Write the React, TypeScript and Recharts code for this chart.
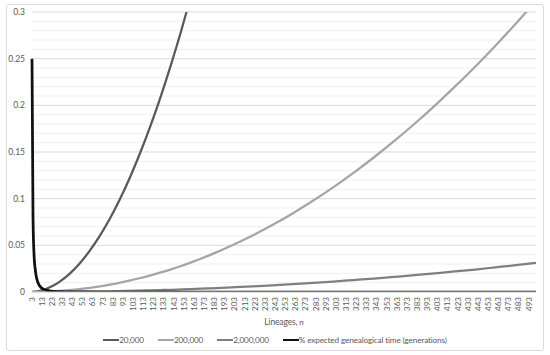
import React from 'react';
import { LineChart, Line, XAxis, YAxis, CartesianGrid, ReferenceLine, Legend, Label } from 'recharts';

const lineages = [3, 4, 5, 6, 7, 8, 10, 12, 15, 20, 25, 30, 40, 50, 60, 70, 80, 90, 100, 110, 120, 130, 140, 150, 160, 170, 180, 200, 220, 240, 260, 280, 300, 320, 340, 360, 380, 400, 420, 440, 460, 480, 500];

const pop20k = [0.0001, 0.0002, 0.0003, 0.0004, 0.0005, 0.0007, 0.0011, 0.0017, 0.0026, 0.0048, 0.0075, 0.0109, 0.0195, 0.0306, 0.0443, 0.0604, 0.079, 0.1001, 0.1238, 0.15, 0.1785, 0.2096, 0.2433, 0.2794, 0.318, 0.3591, 0.4028, 0.4975, null, null, null, null, null, null, null, null, null, null, null, null, null, null, null];

const pop200k = [0, 0, 0, 0, 0.0001, 0.0001, 0.0001, 0.0002, 0.0003, 0.0005, 0.0008, 0.0011, 0.002, 0.0031, 0.0044, 0.006, 0.0079, 0.01, 0.0124, 0.015, 0.0179, 0.021, 0.0243, 0.0279, 0.0318, 0.0359, 0.0403, 0.0498, 0.0602, 0.0717, 0.0842, 0.0977, 0.1121, 0.1276, 0.1441, 0.1616, 0.18, 0.1995, 0.22, 0.2414, 0.2639, 0.2874, 0.3119];

const pop2m = [0, 0, 0, 0, 0, 0, 0, 0, 0, 0, 0.0001, 0.0001, 0.0002, 0.0003, 0.0004, 0.0006, 0.0008, 0.001, 0.0012, 0.0015, 0.0018, 0.0021, 0.0024, 0.0028, 0.0032, 0.0036, 0.004, 0.005, 0.006, 0.0072, 0.0084, 0.0098, 0.0112, 0.0128, 0.0144, 0.0162, 0.018, 0.02, 0.022, 0.0241, 0.0264, 0.0287, 0.0312];

const genealogicalTime = [0.25, 0.08, 0.04, 0.026, 0.018, 0.013, 0.0075, 0.0048, 0.0028, 0.0013, 0.0007, 0.0004, 0.0002, 0.0001, 0.0001, 0, 0, 0, 0, 0, 0, 0, 0, 0, 0, 0, 0, 0, 0, 0, 0, 0, 0, 0, 0, 0, 0, 0, 0, 0, 0, 0, 0];

const xTicks = [3, 13, 23, 33, 43, 53, 63, 73, 83, 93, 103, 113, 123, 133, 143, 153, 163, 173, 183, 193, 203, 213, 223, 233, 243, 253, 263, 273, 283, 293, 303, 313, 323, 333, 343, 353, 363, 373, 383, 393, 403, 413, 423, 433, 443, 453, 463, 473, 483, 493];
const yTicks = [0, 0.05, 0.1, 0.15, 0.2, 0.25, 0.3];
const minorTicks = [0.01, 0.02, 0.03, 0.04, 0.06, 0.07, 0.08, 0.09, 0.11, 0.12, 0.13, 0.14, 0.16, 0.17, 0.18, 0.19, 0.21, 0.22, 0.23, 0.24, 0.26, 0.27, 0.28, 0.29];

const series = [
    { key: 'pop20k', name: '20,000', color: '#595959', width: 2.25 },
    { key: 'pop200k', name: '200,000', color: '#a5a5a5', width: 2.25 },
    { key: 'pop2m', name: '2,000,000', color: '#7f7f7f', width: 2.25 },
    { key: 'genealogicalTime', name: '% expected genealogical time (generations)', color: '#111111', width: 2.75 },
];

const data = lineages.map((n, i) => ({
    n,
    pop20k: pop20k[i],
    pop200k: pop200k[i],
    pop2m: pop2m[i],
    genealogicalTime: genealogicalTime[i],
}));

const FONT = 'Lato, "Open Sans", sans-serif';
const TEXT = '#595959';

const XTick = ({ x, y, payload }: any) => (
    <text
        x={x}
        y={y}
        transform={`rotate(-90, ${x}, ${y})`}
        textAnchor="end"
        dy="0.33em"
        fill={TEXT}
        fontSize={8}
        fontFamily={FONT}
    >
        {payload.value}
    </text>
);

const AxisTitle = (props: any) => {
    const vb = props.viewBox || {};
    return (
        <text x={vb.x + vb.width / 2} y={vb.y + 33} textAnchor="middle" fill={TEXT} fontSize={8.5} letterSpacing={-0.15} fontFamily={FONT}>
            Lineages, <tspan fontStyle="italic">n</tspan>
        </text>
    );
};

const renderLegend = () => (
    <div style={{ display: 'flex', justifyContent: 'center', alignItems: 'center', gap: 14, height: 14, fontFamily: FONT, fontSize: 8.2, letterSpacing: -0.15, color: TEXT }}>
        {series.map((s) => (
            <div key={s.key} style={{ display: 'flex', alignItems: 'center' }}>
                <span style={{ display: 'inline-block', width: 16, height: s.width, background: s.color }} />
                <span>{s.name}</span>
            </div>
        ))}
    </div>
);

export default function App() {
    return (
        <div style={{ position: 'absolute', left: 0, top: 0, width: 550, height: 355, background: '#fff' }}>
            <div style={{ position: 'absolute', left: 6, top: 4, width: 536, height: 345, border: '1px solid #d9d9d9', borderRadius: 3 }} />
            <LineChart width={550} height={355} data={data} margin={{ top: 12, right: 14, bottom: 8, left: 0 }}>
                <CartesianGrid vertical={false} stroke="#d9d9d9" />
                {minorTicks.map((v) => (
                    <ReferenceLine key={v} y={v} stroke="#f0f0f0" strokeWidth={1} />
                ))}
                <XAxis
                    dataKey="n"
                    type="number"
                    domain={[3, 500]}
                    ticks={xTicks}
                    interval={0}
                    height={41}
                    tick={<XTick />}
                    tickLine={false}
                    tickSize={0}
                    tickMargin={5}
                    axisLine={{ stroke: '#d9d9d9' }}
                >
                    <Label content={<AxisTitle />} />
                </XAxis>
                <YAxis
                    domain={[0, 0.3]}
                    ticks={yTicks}
                    allowDataOverflow
                    width={32}
                    axisLine={false}
                    tickLine={false}
                    tickSize={0}
                    tickMargin={7}
                    tick={{ fill: TEXT, fontSize: 8.5, fontFamily: FONT }}
                />
                <Legend content={renderLegend} verticalAlign="bottom" wrapperStyle={{ left: 0, width: 550 }} />
                {series.map((s) => (
                    <Line
                        key={s.key}
                        dataKey={s.key}
                        name={s.name}
                        type="monotone"
                        stroke={s.color}
                        strokeWidth={s.width}
                        dot={false}
                        activeDot={false}
                        isAnimationActive={false}
                    />
                ))}
            </LineChart>
        </div>
    );
}
